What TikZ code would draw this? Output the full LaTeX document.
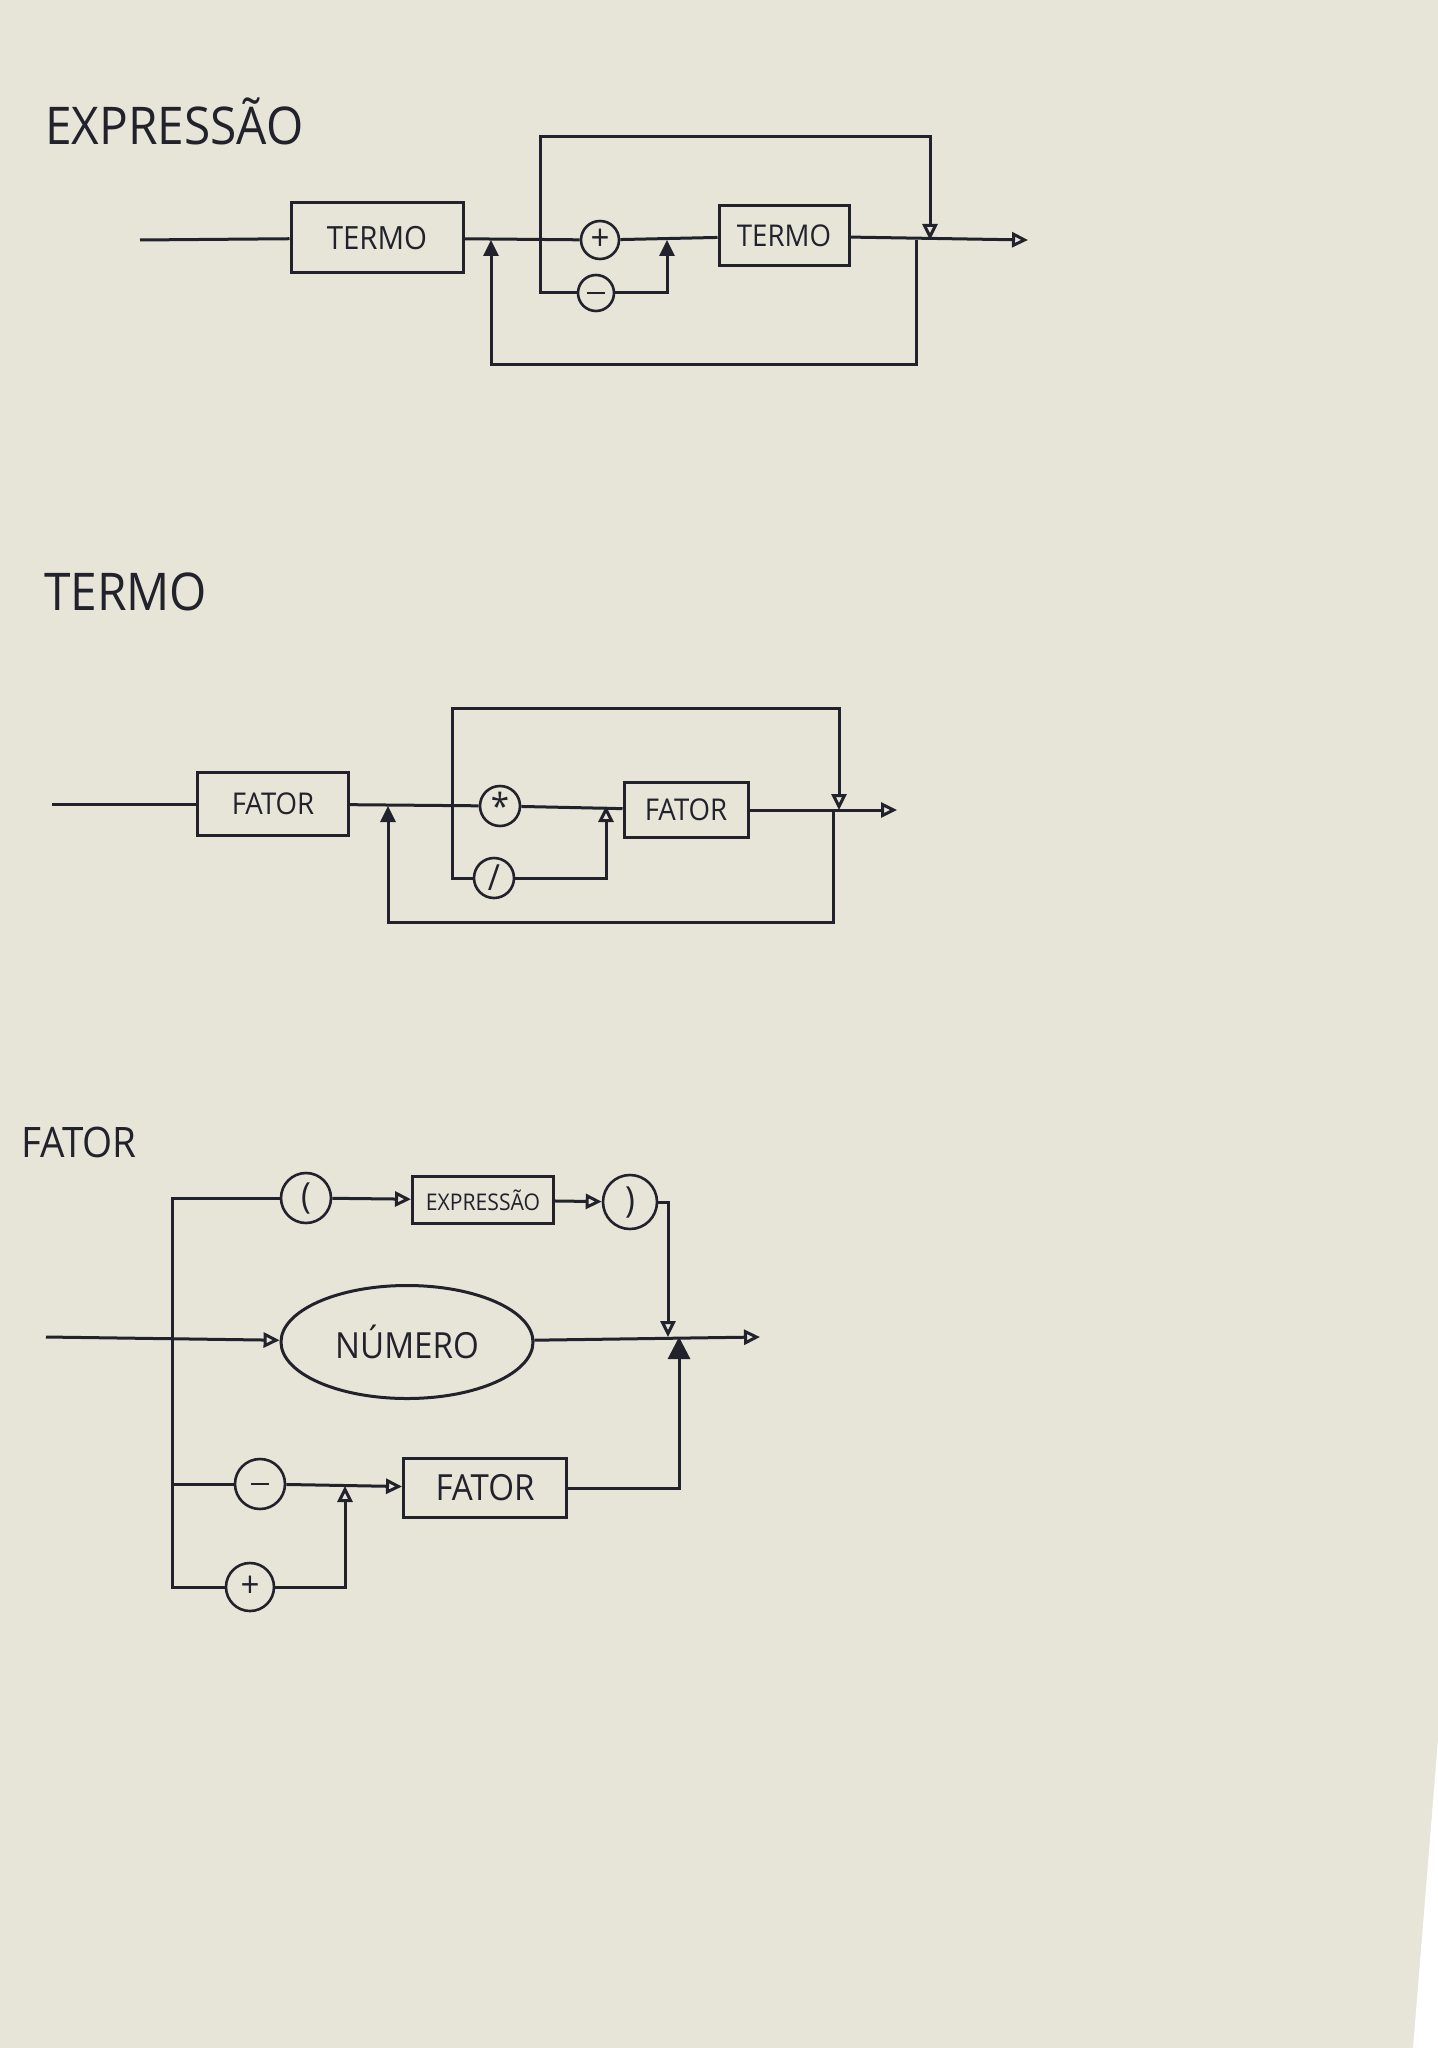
\documentclass[tikz,border=0pt]{standalone}
\usepackage{fontspec}
\newfontfamily\mao[FakeStretch=0.92]{Open Sans}
\usetikzlibrary{arrows.meta,shapes.geometric}
\definecolor{papel}{HTML}{E6E5D8}
\definecolor{tinta}{HTML}{22222C}
\newcommand{\traco}{\rule[-0.6pt]{9pt}{1.2pt}}

\tikzset{
  titulo/.style={anchor=base west,font=\mao\fontsize{26}{28}\selectfont},
  caixa/.style={draw,rectangle,inner sep=0pt},
  simb/.style={draw,circle,inner sep=0pt,line width=1.3pt,font=\mao\fontsize{18}{18}\selectfont},
  arr/.style={-{Triangle[open,length=8pt,width=7.5pt]}},
  arrf/.style={-{Triangle[length=8pt,width=7.5pt]}},
}

\begin{document}
\begin{tikzpicture}[x=0.5pt,y=-0.5pt,line width=1.5pt,color=tinta]
 \fill[papel] (0,0) rectangle (1438,2048);
 \fill[white] (1438,1740) -- (1413,2048) -- (1438,2048) -- cycle;
 \useasboundingbox (0,0) rectangle (1438,2048);

 % expressao
 \node[titulo] (tExp) at (37,145) {EXPRESSÃO};
 \node[caixa,minimum width=86pt,minimum height=35pt,font=\mao\fontsize{16}{18}\selectfont]
   (termoA) at (377,238) {TERMO};
 \node[simb,minimum size=19pt] (maisA) at (600,240) {+};
 \node[simb,minimum size=18pt] (menosA) at (596,293) {\traco};
 \node[caixa,minimum width=65pt,minimum height=30pt,font=\mao\fontsize{15}{17}\selectfont]
   (termoB) at (784,236) {TERMO};
 \coordinate (entA) at (140,240);
 \coordinate (jA1) at (491,240);
 \coordinate (divA) at (540,240);
 \coordinate (jA2) at (667,240);
 \coordinate (retA) at (916,240);
 \coordinate (jA3) at (930,240);
 \coordinate (saiA) at (1028,240);
 \draw (entA) -- (termoA);
 \draw (termoA) -- (maisA);
 \draw (maisA) -- (termoB);
 \draw[arr] (termoB) -- (saiA);
 \draw[arr] (divA) -- ++(0,-103) -| (jA3);
 \draw (divA) |- (menosA);
 \draw[arrf] (menosA) -| (jA2);
 \draw[arrf] (retA) -- ++(0,125) -| (jA1);

 % termo
 \node[titulo] (tTermo) at (36,610) {TERMO};
 \node[caixa,minimum width=75.5pt,minimum height=31.5pt,font=\mao\fontsize{15}{17}\selectfont]
   (fatorA) at (273,804) {FATOR};
 \node[simb,minimum size=20pt] (vezes) at (500,806) {*};
 \node[simb,minimum size=20pt] (barra) at (494,878) {/};
 \node[caixa,minimum width=62pt,minimum height=27.5pt,font=\mao\fontsize{15}{17}\selectfont]
   (fatorB) at (686,810) {FATOR};
 \coordinate (entB) at (52,804);
 \coordinate (jB1) at (388,806);
 \coordinate (divB) at (452,806);
 \coordinate (jB2) at (606,806);
 \coordinate (retB) at (833,810);
 \coordinate (jB3) at (839,810);
 \coordinate (saiB) at (897,810);
 \draw (entB) -- (fatorA);
 \draw (fatorA) -- (vezes);
 \draw (vezes) -- (fatorB);
 \draw[arr] (fatorB) -- (saiB);
 \draw[arr] (divB) -- ++(0,-98) -| (jB3);
 \draw (divB) |- (barra);
 \draw[arr] (barra) -| (jB2);
 \draw[arrf] (retB) -- ++(0,112) -| (jB1);

 % fator
 \node[titulo,font=\mao\fontsize{21}{24}\selectfont] (tFator) at (13,1157) {FATOR};
 \node[simb,minimum size=25pt] (abre) at (306,1198) {(};
 \node[caixa,minimum width=70.5pt,minimum height=23.5pt,font=\mao\fontsize{11.5}{13}\selectfont]
   (expC) at (483,1200) {EXPRESSÃO};
 \node[simb,minimum size=27pt] (fecha) at (630,1202) {)};
 \node[ellipse,draw,inner sep=0pt,minimum width=126pt,minimum height=56.5pt,
   font=\mao\fontsize{18}{20}\selectfont] (numero) at (407,1342) {NÚMERO};
 \node[simb,minimum size=25pt] (menosC) at (260,1484) {\traco};
 \node[caixa,minimum width=81.5pt,minimum height=29.5pt,font=\mao\fontsize{18}{20}\selectfont]
   (fatorC) at (485,1488) {FATOR};
 \node[simb,minimum size=24pt] (maisC) at (250,1587) {+};
 \coordinate (entC) at (46,1337);
 \coordinate (divC) at (172,1337);
 \coordinate (jC1) at (668,1337);
 \coordinate (jC2) at (679,1337);
 \coordinate (jC3) at (345,1486);
 \coordinate (saiC) at (760,1337);
 \draw[arr] (entC) -- (numero);
 \draw[arr] (numero) -- (saiC);
 \draw (abre) -| (divC) |- (maisC);
 \draw[arr] (abre) -- (expC);
 \draw[arr] (expC) -- (fecha);
 \draw[arr] (fecha) -| (jC1);
 \draw (divC |- menosC) -- (menosC);
 \draw[arr] (menosC) -- (fatorC);
 \draw[arr] (maisC) -| (jC3);
 \draw[-{Triangle[length=11pt,width=11pt]}] (fatorC) -| (jC2);
\end{tikzpicture}
\end{document}
